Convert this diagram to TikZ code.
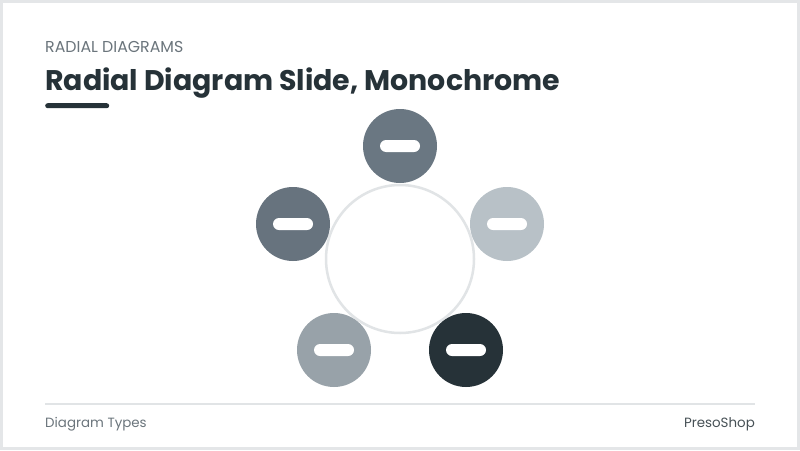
\documentclass[tikz,border=0pt]{standalone}
\usepackage{fontspec}
\setmainfont{Poppins}
\usetikzlibrary{positioning}
\definecolor{ink}{HTML}{263238}
\definecolor{muted}{HTML}{6B757C}
\definecolor{hubline}{HTML}{E1E4E6}
\definecolor{frameline}{HTML}{E4E6E8}
\definecolor{slate}{HTML}{6A7782}
\definecolor{slatedark}{HTML}{67737E}
\definecolor{mist}{HTML}{B8C1C7}
\definecolor{ash}{HTML}{98A2A9}
\begin{document}
\begin{tikzpicture}[x=1pt,y=-1pt]
		\tikzstyle{Hub} = [circle, minimum size=148pt, inner sep=0pt, draw=hubline, line width=2.5pt, fill=white]
		\tikzstyle{Petal} = [circle, minimum size=74pt, inner sep=0pt]
		\tikzstyle{Pill} = [rectangle, rounded corners=6pt, minimum width=40pt, minimum height=12pt, inner sep=0pt, fill=white]
		\tikzstyle{Kicker} = [anchor=base west, inner sep=0pt, text=muted, font=\fontsize{15.8}{18}\selectfont]
		\tikzstyle{Foot} = [inner sep=0pt, text=muted, font=\fontsize{13.4}{15}\selectfont]
		
		\useasboundingbox (0,0) rectangle (800,450);
		\fill[white] (0,0) rectangle (800,450);
		\draw[frameline, line width=3pt] (1.5,1.5) rectangle (798.5,448.5);
		
		% header
		\node (kicker) [Kicker] at (45,52) {RADIAL DIAGRAMS};
		\node (title) [anchor=base west, inner sep=0pt, text=ink, font=\fontsize{28.4}{32}\selectfont\bfseries] at (45,90) {Radial Diagram Slide, Monochrome};
		\node (bar) [rectangle, rounded corners=2.5pt, minimum width=64pt, minimum height=5pt, inner sep=0pt, fill=ink, anchor=north west] at (45,103) {};
		
		% diagram
		\node (hub) [Hub] at (400,259) {};
		\node (top) [Petal, fill=slate] at (400,146) {};
		\node (right) [Petal, fill=mist] at (507,224) {};
		\node (left) [Petal, fill=slatedark] at (293,224) {};
		\node (lowleft) [Petal, fill=ash] at (334,350) {};
		\node (lowright) [Petal, fill=ink] at (466,350) {};
		\node (toppill) [Pill] at (top) {};
		\node (rightpill) [Pill] at (right) {};
		\node (leftpill) [Pill] at (left) {};
		\node (lowleftpill) [Pill] at (lowleft) {};
		\node (lowrightpill) [Pill] at (lowright) {};
		
		% footer
		\coordinate (rulestart) at (45,404);
		\coordinate (ruleend) at (755,404);
		\draw[hubline, line width=1.2pt] (rulestart) -- (ruleend);
		\node (foottype) [Foot, anchor=west] at (45,424) {Diagram Types};
		\node (footbrand) [Foot, anchor=east, text=ink!85] at (755,424) {PresoShop};
\end{tikzpicture}
\end{document}
